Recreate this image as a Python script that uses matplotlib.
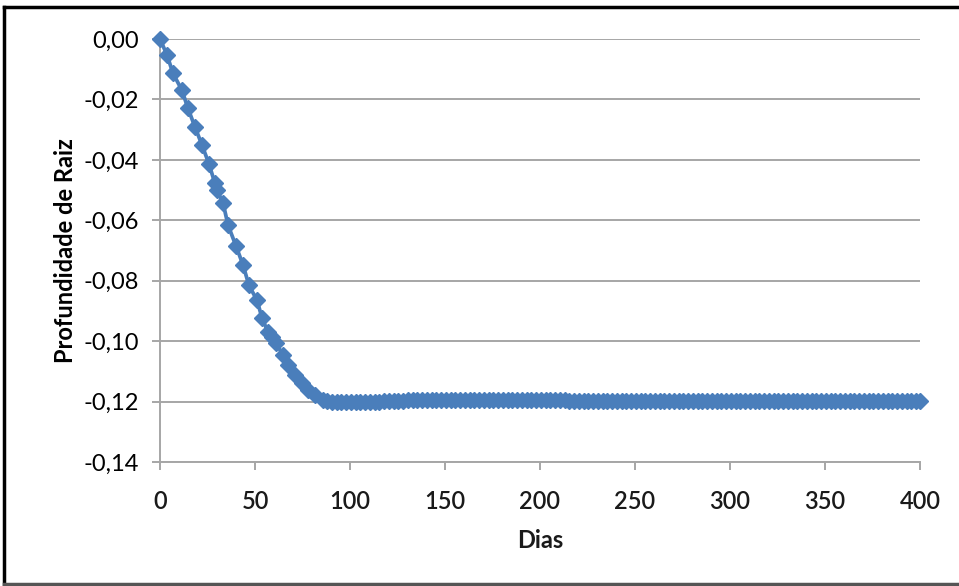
import matplotlib
matplotlib.use("Agg")
import matplotlib.pyplot as plt
from matplotlib.lines import Line2D
from matplotlib.ticker import FuncFormatter, MultipleLocator

# ---- data ----
days_descent = [0, 3.7, 6.8, 11.5, 14.7, 18.4, 22.1, 25.8, 28.9, 30.0, 33.2, 35.8,
                40.0, 43.7, 46.8, 51.0, 53.7, 56.8, 58.9, 61.0, 64.7, 67.4, 71.0,
                74.7, 77.9, 81.6, 85.8]
depth_descent = [0.0, -0.0053, -0.0113, -0.0169, -0.0229, -0.0291, -0.0351, -0.0414,
                 -0.0477, -0.0500, -0.0543, -0.0616, -0.0685, -0.0748, -0.0815, -0.0864,
                 -0.0923, -0.0970, -0.0986, -0.1006, -0.1046, -0.1079, -0.1112, -0.1139,
                 -0.1162, -0.1178, -0.1195]

days_plateau = [88, 90.5, 93, 95.5, 98, 100.5, 103, 105.5, 108, 110.5, 113, 115.5, 118,
                120.5, 123, 125.5, 128, 130.5, 133, 135.5, 138, 140.5, 143, 145.5, 148,
                150.5, 153, 155.5, 158, 160.5, 163, 165.5, 168, 170.5, 173, 175.5, 178,
                180.5, 183, 185.5, 188, 190.5, 193, 195.5, 198, 200.5, 203, 205.5, 208,
                210.5, 213, 215.5, 218, 220.5, 223, 225.5, 228, 230.5, 233, 235.5, 238,
                240.5, 243, 245.5, 248, 250.5, 253, 255.5, 258, 260.5, 263, 265.5, 268,
                270.5, 273, 275.5, 278, 280.5, 283, 285.5, 288, 290.5, 293, 295.5, 298,
                300.5, 303, 305.5, 308, 310.5, 313, 315.5, 318, 320.5, 323, 325.5, 328,
                330.5, 333, 335.5, 338, 340.5, 343, 345.5, 348, 350.5, 353, 355.5, 358,
                360.5, 363, 365.5, 368, 370.5, 373, 375.5, 378, 380.5, 383, 385.5, 388,
                390.5, 393, 395.5, 398, 400]
depth_plateau = [
    -0.1198, -0.1200, -0.1201, -0.1202,
    -0.1203, -0.1203, -0.1203, -0.1203, -0.1202, -0.1202, -0.1201,
    -0.1200, -0.1199, -0.1198, -0.1198, -0.1197, -0.1197,
    -0.1196, -0.1196, -0.1196, -0.1195, -0.1196, -0.1196, -0.1196, -0.1195, -0.1196, -0.1196,
    -0.1196, -0.1195, -0.1196, -0.1196, -0.1196, -0.1195, -0.1196, -0.1196, -0.1196, -0.1195,
    -0.1196, -0.1196, -0.1196, -0.1195, -0.1196, -0.1196, -0.1196, -0.1195, -0.1196, -0.1196,
    -0.1196, -0.1196, -0.1196, -0.1196, -0.1197, -0.1197, -0.1197, -0.1198,
    -0.1198, -0.1198, -0.1198, -0.1199, -0.1198, -0.1198, -0.1198, -0.1198, -0.1198, -0.1198,
    -0.1198, -0.1198, -0.1197, -0.1198, -0.1198, -0.1198, -0.1198, -0.1198, -0.1197, -0.1198,
    -0.1198, -0.1198, -0.1198, -0.1198, -0.1198, -0.1198, -0.1197, -0.1198, -0.1198, -0.1198,
    -0.1198, -0.1198, -0.1198, -0.1198, -0.1198, -0.1198, -0.1198, -0.1197, -0.1198, -0.1198,
    -0.1198, -0.1198, -0.1198, -0.1198, -0.1198, -0.1198, -0.1198, -0.1198, -0.1198, -0.1197,
    -0.1198, -0.1198, -0.1198, -0.1198, -0.1198, -0.1198, -0.1198, -0.1198, -0.1198, -0.1198,
    -0.1198, -0.1198, -0.1198, -0.1198, -0.1198, -0.1198, -0.1198, -0.1198, -0.1198, -0.1198,
    -0.1198,
]

days = days_descent + days_plateau
depth = depth_descent + depth_plateau

x_label = "Dias"
y_label = "Profundidade de Raiz"

# ---- figure ----
plt.rcParams['font.family'] = ['Lato', 'DejaVu Sans']
fig = plt.figure(figsize=(9.59, 5.86), dpi=100)
ax = fig.add_axes([160 / 959, 1 - 462 / 586, 760 / 959, (462 - 39) / 586])

blue = '#4A7EBB'
ax.plot(days, depth, color=blue, lw=2.7, marker='D', markersize=8.5,
        markerfacecolor=blue, markeredgecolor=blue, zorder=3, clip_on=False)

ax.set_xlim(0, 400)
ax.set_ylim(-0.14, 0.0)
ax.xaxis.set_major_locator(MultipleLocator(50))
ax.yaxis.set_major_locator(MultipleLocator(0.02))
ax.yaxis.set_major_formatter(FuncFormatter(lambda v, p: f"{v:.2f}".replace('.', ',').replace('-0,00', '0,00')))

ax.grid(axis='y', color='#A6A6A6', lw=1.4, zorder=0)
for s in ['top', 'right']:
    ax.spines[s].set_visible(False)
for s in ['left', 'bottom']:
    ax.spines[s].set_color('#A6A6A6')
    ax.spines[s].set_linewidth(1.4)

ax.tick_params(axis='y', direction='out', length=6, width=1.4, color='#A6A6A6',
               labelsize=17, pad=9, labelcolor='#000000')
ax.tick_params(axis='x', direction='out', length=6, width=1.4, color='#A6A6A6',
               labelsize=17, pad=14, labelcolor='#1a1a1a')
for lab in ax.get_xticklabels():
    lab.set_fontweight('semibold')

ax.set_xlabel(x_label, fontsize=17, fontweight='bold', labelpad=12, color='#1a1a1a')
ax.set_ylabel(y_label, fontsize=17, fontweight='bold', labelpad=5)

# outer frame of the chart
frame_kw = dict(transform=fig.transFigure, color='#000000', lw=2.5)
fig.add_artist(Line2D([4 / 959, 1.0], [1 - 7 / 586, 1 - 7 / 586], **frame_kw))
fig.add_artist(Line2D([4 / 959, 4 / 959], [1 - 7 / 586, 1 - 584 / 586], **frame_kw))
fig.add_artist(Line2D([4 / 959, 1.0], [1 - 584 / 586, 1 - 584 / 586],
                      transform=fig.transFigure, color='#555555', lw=2.5))

fig.savefig("out.png", dpi=100)
